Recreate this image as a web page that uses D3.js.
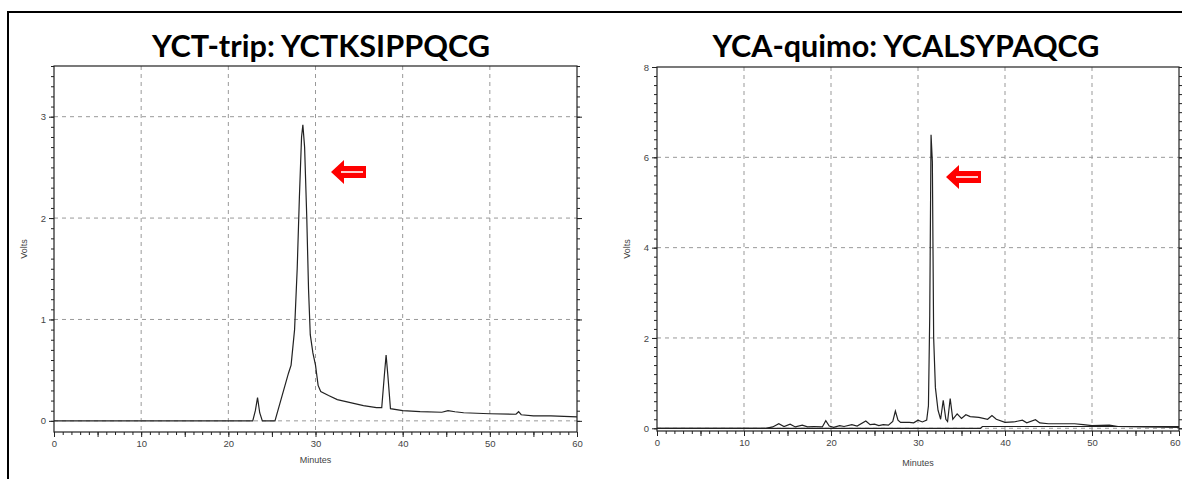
<!DOCTYPE html>
<meta charset="utf-8">
<script src="https://d3js.org/d3.v7.min.js"></script>
<style>
  body { margin: 0; background: #fff; }
  .tick text { font-family: Arial, 'Liberation Sans', sans-serif; font-size: 9.5px; fill: #444; }
  .tick line { stroke: #222; }
  .lbl { font-family: Arial, 'Liberation Sans', sans-serif; font-size: 9px; fill: #444; }
  .title { font-family: Lato, 'Open Sans', sans-serif; font-weight: bold; font-size: 30px; fill: #000; }
</style>
<div id="my_dataviz"></div>
<script>
// titles
const titles = ["YCT-trip: YCTKSIPPQCG", "YCA-quimo: YCALSYPAQCG"];

// tick values
const minuteTicks = [0, 10, 20, 30, 40, 50, 60];
const leftVoltTicks = [0, 1, 2, 3];
const rightVoltTicks = [0, 2, 4, 6, 8];

// left trace [minutes, volts]
const leftTrace = [
  [0, 0], [20, 0], [22.8, 0], [23.1, 0.1], [23.35, 0.23], [23.6, 0.08], [23.9, 0],
  [25.35, 0], [26.9, 0.47], [27.2, 0.55], [27.6, 0.9], [27.9, 1.5], [28.15, 2.2],
  [28.4, 2.8], [28.55, 2.92], [28.75, 2.7], [29.0, 2.0], [29.2, 1.3], [29.4, 0.85],
  [29.7, 0.67], [30.0, 0.55], [30.3, 0.35], [30.6, 0.29], [31.5, 0.25], [32.5, 0.21],
  [34, 0.18], [35.5, 0.15], [37, 0.13], [37.6, 0.13], [37.9, 0.45], [38.1, 0.65],
  [38.3, 0.45], [38.6, 0.12], [40, 0.1], [42, 0.09], [44.5, 0.085], [45.2, 0.1],
  [46, 0.09], [47, 0.08], [50, 0.07], [53, 0.065], [53.3, 0.09], [53.6, 0.06],
  [55, 0.05], [57, 0.05], [60, 0.04]
];

// right trace [minutes, volts]
const rightTrace = [
  [0, 0], [12.5, 0], [13.3, 0.03], [14, 0.1], [14.6, 0.04], [15.3, 0.09], [15.9, 0.03],
  [16.7, 0.07], [17.3, 0.03], [18, 0.04], [19, 0.03], [19.4, 0.17], [19.8, 0.05],
  [20.3, 0.02], [21, 0.06], [21.5, 0.04], [22.4, 0.08], [23, 0.05], [24, 0.16],
  [24.5, 0.08], [25, 0.09], [25.5, 0.06], [26, 0.08], [26.6, 0.07], [27.1, 0.15],
  [27.4, 0.38], [27.7, 0.18], [28, 0.13], [29, 0.13], [29.5, 0.12], [30, 0.18],
  [30.5, 0.14], [31.0, 0.18], [31.2, 0.5], [31.35, 2.5], [31.5, 6.5], [31.65, 5.9],
  [31.8, 2.0], [32.0, 0.9], [32.3, 0.4], [32.6, 0.2], [32.9, 0.62], [33.2, 0.2],
  [33.4, 0.15], [33.7, 0.66], [34.0, 0.2], [34.5, 0.32], [35.0, 0.22], [35.5, 0.3],
  [36, 0.26], [37, 0.24], [38, 0.2], [38.5, 0.28], [39, 0.2], [40, 0.13], [41, 0.14],
  [42, 0.18], [42.5, 0.12], [43.5, 0.19], [44, 0.12], [45, 0.1], [48, 0.1], [49, 0.08],
  [50, 0.06], [52, 0.07], [53, 0.04], [56, 0.03], [60, 0.02]
];

// blank run under the right trace
const rightBlank = [[0, 0], [37.2, 0], [37.4, 0.04], [60, 0.04]];

const svg = d3.select("#my_dataviz")
  .append("svg")
    .attr("width", 1182)
    .attr("height", 479);

// outer frame
svg.append("path")
  .attr("d", "M8,479 L8,12 L1182,12")
  .attr("fill", "none")
  .attr("stroke", "#000")
  .attr("stroke-width", 2);

function drawChart(cfg) {
  const g = svg.append("g");
  const x = d3.scaleLinear().domain([0, 60]).range([cfg.left, cfg.right]);
  const y = d3.scaleLinear().domain(cfg.yDomain).range([cfg.bottom, cfg.top]);

  // grid
  g.selectAll(".vgrid")
    .data(minuteTicks.filter(d => d > 0 && d < 60))
    .enter().append("line")
      .attr("x1", d => x(d)).attr("x2", d => x(d))
      .attr("y1", cfg.top).attr("y2", cfg.bottom)
      .attr("stroke", "#999").attr("stroke-dasharray", "4,4");
  g.selectAll(".hgrid")
    .data(cfg.yTicks.filter(d => d < cfg.yDomain[1]))
    .enter().append("line")
      .attr("x1", cfg.left).attr("x2", cfg.right)
      .attr("y1", d => y(d)).attr("y2", d => y(d))
      .attr("stroke", "#999").attr("stroke-dasharray", "4,4");

  // bottom axis: minor, mid, major
  const minor = d3.range(0, 61, 1);
  const mid = d3.range(5, 60, 10);
  g.append("g").attr("transform", `translate(0,${cfg.bottom})`)
    .call(d3.axisBottom(x).tickValues(minor).tickSize(3).tickFormat(""))
    .call(a => a.select(".domain").remove());
  g.append("g").attr("transform", `translate(0,${cfg.bottom})`)
    .call(d3.axisBottom(x).tickValues(mid).tickSize(5).tickFormat(""))
    .call(a => a.select(".domain").remove());
  const bx = g.append("g").attr("transform", `translate(0,${cfg.bottom})`)
    .call(d3.axisBottom(x).tickValues(minuteTicks).tickSize(5).tickPadding(3))
    .call(a => a.select(".domain").remove());
  // last label sits on the page edge for the right chart
  if (cfg.right > 1170) {
    bx.selectAll(".tick text").filter(d => d === 60)
      .attr("text-anchor", "end").attr("dx", 1);
  }

  // left and right axes
  const yMinor = d3.range(0, cfg.yDomain[1] + 1e-6, cfg.yMinorStep);
  [d3.axisLeft, d3.axisRight].forEach((ax, i) => {
    const xp = i === 0 ? cfg.left : cfg.right;
    g.append("g").attr("transform", `translate(${xp},0)`)
      .call(ax(y).tickValues(yMinor).tickSize(3).tickFormat(""))
      .call(a => a.select(".domain").remove());
    g.append("g").attr("transform", `translate(${xp},0)`)
      .call(ax(y).tickValues(cfg.yTicks).tickSize(5).tickPadding(3)
        .tickFormat(i === 0 ? d3.format("d") : ""))
      .call(a => a.select(".domain").remove());
  });

  // plot frame
  g.append("rect")
    .attr("x", cfg.left).attr("y", cfg.top)
    .attr("width", cfg.right - cfg.left).attr("height", cfg.bottom - cfg.top)
    .attr("fill", "none").attr("stroke", "#222").attr("stroke-width", 1.2);

  // traces
  const line = d3.line().x(d => x(d[0])).y(d => y(d[1]));
  cfg.traces.forEach(t => {
    g.append("path")
      .datum(t)
      .attr("d", line)
      .attr("fill", "none")
      .attr("stroke", "#222")
      .attr("stroke-width", 1.2);
  });

  // red arrow pointing at the peak
  const ax0 = cfg.arrow[0], ay = cfg.arrow[1];
  g.append("path")
    .attr("d", `M${ax0},${ay} L${ax0 + 13},${ay - 12} L${ax0 + 13},${ay - 6} L${ax0 + 35},${ay - 6}
               L${ax0 + 35},${ay + 6} L${ax0 + 13},${ay + 6} L${ax0 + 13},${ay + 12} Z`)
    .attr("fill", "#f00");
  g.append("line")
    .attr("x1", ax0 + 10).attr("x2", ax0 + 32)
    .attr("y1", ay).attr("y2", ay)
    .attr("stroke", "#fcc").attr("stroke-width", 2);

  // labels
  g.append("text").attr("class", "title")
    .attr("x", cfg.titleX).attr("y", 57)
    .attr("text-anchor", "middle")
    .attr("textLength", cfg.titleW)
    .attr("lengthAdjust", "spacingAndGlyphs")
    .text(cfg.title);
  g.append("text").attr("class", "lbl")
    .attr("x", (cfg.left + cfg.right) / 2).attr("y", cfg.bottom + cfg.minY)
    .attr("text-anchor", "middle")
    .text("Minutes");
  g.append("text").attr("class", "lbl")
    .attr("transform", `translate(${cfg.left - 27},${(cfg.top + cfg.bottom) / 2}) rotate(-90)`)
    .attr("text-anchor", "middle")
    .text("Volts");
}

drawChart({
  left: 54, right: 577, top: 66, bottom: 432,
  yDomain: [-0.11, 3.5], yTicks: leftVoltTicks, yMinorStep: 0.1,
  traces: [leftTrace], arrow: [331, 172],
  title: titles[0], titleX: 321, titleW: 338, minY: 31
});

drawChart({
  left: 657, right: 1179, top: 67, bottom: 431,
  yDomain: [-0.06, 8], yTicks: rightVoltTicks, yMinorStep: 0.2,
  traces: [rightBlank, rightTrace], arrow: [946, 177],
  title: titles[1], titleX: 906, titleW: 387, minY: 35
});
</script>
